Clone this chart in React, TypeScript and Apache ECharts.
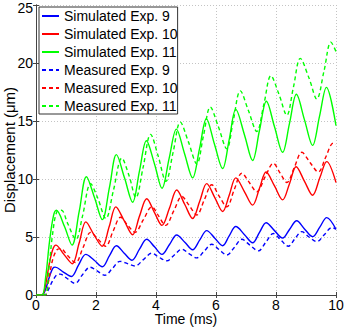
import React, { useEffect, useRef } from "react";
import * as echarts from "echarts";

// Time (ms) / displacement (µm) pairs
const simExp9: [number, number][] = [[0,0],[0.2,0],[0.32,0.5],[0.45,1.6],[0.56,2.3],[0.64,2.4],[0.9,2.0],[1.18,1.6],[1.42,2.6],[1.66,3.5],[1.94,3.0],[2.21,2.44],[2.45,3.4],[2.68,4.25],[2.94,3.6],[3.2,3.0],[3.45,3.95],[3.69,4.8],[3.95,4.15],[4.2,3.5],[4.45,4.35],[4.69,5.17],[4.96,4.55],[5.22,3.9],[5.46,4.75],[5.69,5.55],[5.96,4.9],[6.22,4.25],[6.44,5.1],[6.66,5.9],[6.95,5.2],[7.22,4.5],[7.45,5.4],[7.67,6.23],[7.95,5.55],[8.22,4.9],[8.45,5.65],[8.69,6.4],[8.95,5.7],[9.22,5.03],[9.46,5.85],[9.69,6.67],[10,5.66]];
const simExp10: [number, number][] = [[0,0],[0.2,0],[0.32,0.9],[0.45,2.8],[0.57,4.0],[0.66,4.3],[0.93,3.5],[1.21,2.7],[1.44,4.5],[1.66,6.3],[1.93,5.2],[2.21,4.2],[2.44,5.9],[2.66,7.6],[2.94,6.4],[3.22,5.2],[3.45,6.8],[3.69,8.3],[3.95,7.1],[4.2,6.0],[4.45,7.5],[4.69,9.05],[4.96,7.8],[5.22,6.6],[5.46,8.1],[5.69,9.6],[5.96,8.4],[6.22,7.2],[6.44,8.6],[6.66,10.1],[6.95,8.9],[7.22,7.75],[7.45,9.2],[7.67,10.6],[7.95,9.4],[8.22,8.2],[8.45,9.6],[8.67,11.06],[8.95,9.8],[9.22,8.6],[9.46,10.1],[9.69,11.5],[10,9.7]];
const simExp11: [number, number][] = [[0,0],[0.2,0],[0.32,1.5],[0.45,4.6],[0.58,6.8],[0.68,7.3],[0.95,5.9],[1.2,4.3],[1.44,7.2],[1.68,10.2],[1.95,8.4],[2.21,6.5],[2.45,9.3],[2.68,12.1],[2.95,10.1],[3.22,8.0],[3.45,10.7],[3.68,13.3],[3.95,11.3],[4.2,9.2],[4.44,11.8],[4.68,14.3],[4.95,12.2],[5.22,10.1],[5.45,12.6],[5.68,15.2],[5.95,13.0],[6.22,10.9],[6.44,13.4],[6.66,16.0],[6.95,13.8],[7.22,11.6],[7.45,14.2],[7.68,16.7],[7.95,14.5],[8.22,12.3],[8.45,14.8],[8.68,17.3],[8.95,15.1],[9.22,12.9],[9.45,15.4],[9.68,17.9],[10,14.6]];
const measExp9: [number, number][] = [[0,0],[0.3,0],[0.42,0.5],[0.55,1.2],[0.7,1.75],[0.8,1.8],[1.05,1.4],[1.3,1.0],[1.55,1.75],[1.8,2.4],[2.05,2.05],[2.3,1.7],[2.55,2.3],[2.8,2.9],[3.05,2.7],[3.3,2.5],[3.58,3.05],[3.86,3.6],[4.1,3.25],[4.36,2.95],[4.61,3.45],[4.86,3.95],[5.11,3.55],[5.36,3.2],[5.61,3.8],[5.86,4.37],[6.11,3.9],[6.36,3.45],[6.61,4.1],[6.86,4.8],[7.13,4.3],[7.41,3.8],[7.66,4.55],[7.91,5.3],[8.16,4.75],[8.41,4.2],[8.63,4.85],[8.86,5.46],[9.1,5.0],[9.36,4.6],[9.61,5.2],[9.86,5.8],[10,5.7]];
const measExp10: [number, number][] = [[0,0],[0.3,0],[0.42,1.2],[0.55,3.0],[0.7,3.9],[0.82,4.0],[1.05,3.4],[1.32,2.8],[1.57,4.1],[1.82,5.4],[2.07,4.8],[2.32,4.2],[2.57,5.5],[2.82,6.7],[3.06,6.0],[3.3,5.4],[3.58,6.5],[3.86,7.6],[4.09,6.8],[4.32,6.0],[4.6,7.3],[4.86,8.5],[5.11,7.7],[5.36,6.9],[5.61,8.2],[5.86,9.5],[6.11,8.5],[6.36,7.6],[6.61,9.1],[6.86,10.5],[7.11,9.7],[7.36,8.9],[7.64,10.2],[7.91,11.35],[8.14,10.5],[8.36,9.7],[8.61,11.0],[8.86,12.3],[9.14,11.4],[9.41,10.6],[9.66,11.9],[9.91,13.1],[10,13.0]];
const measExp11: [number, number][] = [[0,0],[0.3,0],[0.42,2.0],[0.55,5.2],[0.7,7.2],[0.85,7.3],[1.05,6.2],[1.33,4.8],[1.55,6.8],[1.82,9.6],[2.05,8.4],[2.33,6.6],[2.58,9.0],[2.86,11.8],[3.1,10.3],[3.33,8.4],[3.57,11.0],[3.82,13.85],[4.07,12.0],[4.33,9.8],[4.57,12.3],[4.81,14.9],[5.08,13.2],[5.36,11.3],[5.58,13.7],[5.81,16.2],[6.08,14.5],[6.36,12.6],[6.58,15.1],[6.81,17.6],[7.08,15.9],[7.36,14.1],[7.6,16.5],[7.83,18.9],[8.1,17.3],[8.36,15.5],[8.58,17.9],[8.81,20.4],[9.1,18.7],[9.36,16.9],[9.6,19.3],[9.83,21.8],[10,21.0]];

const seriesNames = [
  "Simulated Exp. 9",
  "Simulated Exp. 10",
  "Simulated Exp. 11",
  "Measured Exp. 9",
  "Measured Exp. 10",
  "Measured Exp. 11",
];
const seriesData = [simExp9, simExp10, simExp11, measExp9, measExp10, measExp11];
const seriesColors = ["#0000ff", "#ff0000", "#00ff00", "#0000ff", "#ff0000", "#00ff00"];
const seriesDashed = [false, false, false, true, true, true];
const yMax = 25;

const FONT = "Liberation Sans, Arial, Helvetica, sans-serif";

export default function App() {
  const ref = useRef<HTMLDivElement>(null);
  useEffect(() => {
    document.body.style.margin = "0";
    const chart = echarts.init(ref.current!, null, { renderer: "svg" });
    const frame = { show: true, lineStyle: { color: "#444444", width: 1 } };
    const gridLine = { show: true, lineStyle: { color: "#c4c4c4", width: 1, type: [1, 2] as any } };
    const ticks = { show: true, inside: true, length: 3, lineStyle: { color: "#444444" } };
    chart.setOption({
      animation: false,
      backgroundColor: "#ffffff",
      textStyle: { fontFamily: FONT },
      grid: { left: 36, right: 8, top: 5, bottom: 32, containLabel: false, outerBoundsMode: "none" },
      legend: {
        orient: "vertical",
        left: 39,
        top: 7,
        padding: [2, 0, 1, 2],
        itemGap: 4,
        itemWidth: 17,
        itemHeight: 14,
        backgroundColor: "#ffffff",
        borderColor: "#333333",
        borderWidth: 1,
        borderRadius: 0,
        itemStyle: { opacity: 0 },
        textStyle: { fontFamily: FONT, fontSize: 14, color: "#000000" },
        data: seriesNames,
      },
      xAxis: [
        {
          type: "value",
          min: 0,
          max: 10,
          interval: 2,
          name: "Time (ms)",
          nameLocation: "middle",
          nameGap: 17,
          nameMoveOverlap: false,
          nameTextStyle: { fontFamily: FONT, fontSize: 14, color: "#000000" },
          axisLine: frame,
          axisTick: ticks,
          splitLine: gridLine,
          axisLabel: { fontFamily: FONT, fontSize: 14, color: "#000000", margin: 3 },
        },
        {
          type: "value",
          position: "top",
          min: 0,
          max: 10,
          interval: 2,
          axisLine: frame,
          axisTick: ticks,
          splitLine: { show: false },
          axisLabel: { show: false },
        },
      ],
      yAxis: [
        {
          type: "value",
          min: 0,
          max: yMax,
          interval: 5,
          name: "Displacement (μm)",
          nameLocation: "middle",
          nameGap: 19,
          nameMoveOverlap: false,
          nameTextStyle: { fontFamily: FONT, fontSize: 15, color: "#000000" },
          axisLine: frame,
          axisTick: ticks,
          splitLine: gridLine,
          axisLabel: {
            fontFamily: FONT,
            fontSize: 14,
            color: "#000000",
            margin: 3,
            formatter: (v: number) => (v === yMax ? `{top|${v}}` : `${v}`),
            rich: { top: { fontFamily: FONT, fontSize: 14, color: "#000000", padding: [6, 0, 0, 0] } },
          },
        },
        {
          type: "value",
          position: "right",
          min: 0,
          max: yMax,
          interval: 5,
          axisLine: frame,
          axisTick: ticks,
          splitLine: { show: false },
          axisLabel: { show: false },
        },
      ],
      series: seriesData.map((d, i) => ({
        name: seriesNames[i],
        type: "line",
        data: d,
        showSymbol: false,
        symbol: "none",
        smooth: 0.35,
        color: seriesColors[i],
        lineStyle: {
          color: seriesColors[i],
          width: 1.4,
          type: seriesDashed[i] ? [4, 3] : "solid",
        },
        z: 2 + i,
      })),
    });
    return () => chart.dispose();
  }, []);
  return <div ref={ref} style={{ width: 344, height: 327 }} />;
}
